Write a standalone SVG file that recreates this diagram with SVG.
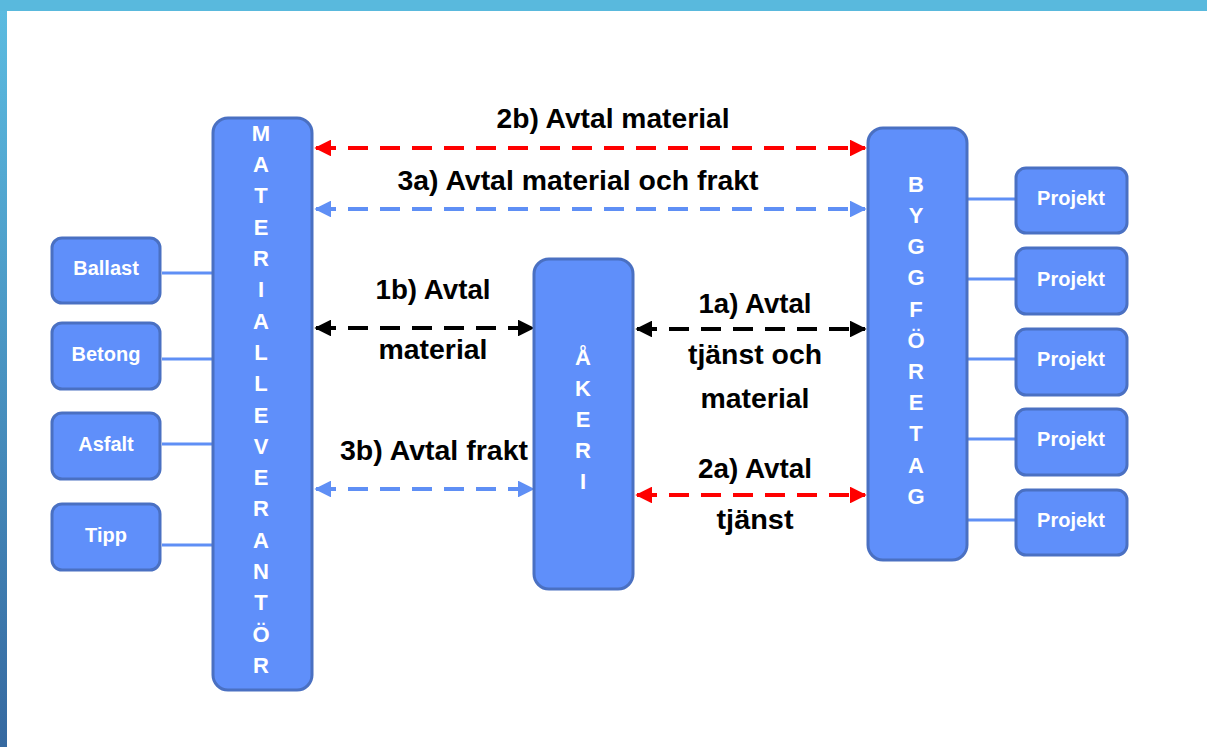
<svg xmlns="http://www.w3.org/2000/svg" width="1207" height="747" viewBox="0 0 1207 747">
<defs>
<linearGradient id="side" x1="0" y1="0" x2="0" y2="1">
<stop offset="0" stop-color="#5bbbe0"/>
<stop offset="1" stop-color="#3669a0"/>
</linearGradient>
<marker id="ar" viewBox="0 0 10 10" refX="9" refY="5" markerWidth="4.2" markerHeight="4.2" orient="auto-start-reverse" markerUnits="strokeWidth"><path d="M0,0 L10,5 L0,10 Z" fill="#ff0000"/></marker>
<marker id="ab" viewBox="0 0 10 10" refX="9" refY="5" markerWidth="4.2" markerHeight="4.2" orient="auto-start-reverse" markerUnits="strokeWidth"><path d="M0,0 L10,5 L0,10 Z" fill="#5f8ff5"/></marker>
<marker id="ak" viewBox="0 0 10 10" refX="9" refY="5" markerWidth="4.2" markerHeight="4.2" orient="auto-start-reverse" markerUnits="strokeWidth"><path d="M0,0 L10,5 L0,10 Z" fill="#000"/></marker>
</defs>
<style>
.box{fill:#5f8ffa;stroke:#4a70c2;stroke-width:3}
.lbl{font-family:"Liberation Sans",Arial,sans-serif;font-weight:bold;fill:#fff;text-anchor:middle}
.small{font-size:20px}
.vert{font-size:22px}
.cap{font-family:"Liberation Sans",Arial,sans-serif;font-weight:bold;fill:#000;text-anchor:middle;font-size:27px}
.link{stroke:#5f8ff5;stroke-width:3;fill:none}
.d{stroke-width:4;stroke-dasharray:20 12;fill:none}
</style>
<rect width="1207" height="747" fill="#fff"/>
<rect x="0" y="0" width="1207" height="11" fill="#59b9dd"/>
<rect x="0" y="11" width="7" height="736" fill="url(#side)"/>

<g id="connectors">
<line class="link" x1="162" y1="273" x2="212" y2="273"/>
<line class="link" x1="162" y1="359" x2="212" y2="359"/>
<line class="link" x1="162" y1="444" x2="212" y2="444"/>
<line class="link" x1="162" y1="545" x2="212" y2="545"/>
<line class="link" x1="967" y1="199" x2="1015" y2="199"/>
<line class="link" x1="967" y1="279" x2="1015" y2="279"/>
<line class="link" x1="967" y1="359" x2="1015" y2="359"/>
<line class="link" x1="967" y1="439" x2="1015" y2="439"/>
<line class="link" x1="967" y1="520" x2="1015" y2="520"/>
<line class="d" stroke="#ff0000" x1="316" y1="148" x2="865" y2="148" marker-start="url(#ar)" marker-end="url(#ar)"/>
<line class="d" stroke="#5f8ff5" x1="316" y1="209" x2="865" y2="209" marker-start="url(#ab)" marker-end="url(#ab)"/>
<line class="d" stroke="#000" x1="316" y1="328" x2="533" y2="328" marker-start="url(#ak)" marker-end="url(#ak)"/>
<line class="d" stroke="#000" x1="637" y1="329" x2="865" y2="329" marker-start="url(#ak)" marker-end="url(#ak)"/>
<line class="d" stroke="#5f8ff5" x1="316" y1="489" x2="533" y2="489" marker-start="url(#ab)" marker-end="url(#ab)"/>
<line class="d" stroke="#ff0000" x1="637" y1="495" x2="865" y2="495" marker-start="url(#ar)" marker-end="url(#ar)"/>
<text class="cap" x="613" y="128" textLength="233" lengthAdjust="spacingAndGlyphs">2b) Avtal material</text>
<text class="cap" x="578" y="190" textLength="361" lengthAdjust="spacingAndGlyphs">3a) Avtal material och frakt</text>
<text class="cap" x="433" y="299" textLength="115" lengthAdjust="spacingAndGlyphs">1b) Avtal</text>
<text class="cap" x="433" y="359" textLength="109" lengthAdjust="spacingAndGlyphs">material</text>
<text class="cap" x="755" y="313" textLength="113" lengthAdjust="spacingAndGlyphs">1a) Avtal</text>
<text class="cap" x="755" y="364" textLength="134" lengthAdjust="spacingAndGlyphs">tjänst och</text>
<text class="cap" x="755" y="408" textLength="109" lengthAdjust="spacingAndGlyphs">material</text>
<text class="cap" x="434" y="460" textLength="188" lengthAdjust="spacingAndGlyphs">3b) Avtal frakt</text>
<text class="cap" x="755" y="478" textLength="114" lengthAdjust="spacingAndGlyphs">2a) Avtal</text>
<text class="cap" x="755" y="529" textLength="77" lengthAdjust="spacingAndGlyphs">tjänst</text>
</g>

<g id="ballast"><rect class="box" x="52" y="238" width="108" height="65" rx="10"/><text class="lbl small" x="106" y="275">Ballast</text></g>
<g id="betong"><rect class="box" x="52" y="323" width="108" height="66" rx="10"/><text class="lbl small" x="106" y="361">Betong</text></g>
<g id="asfalt"><rect class="box" x="52" y="413" width="108" height="66" rx="10"/><text class="lbl small" x="106" y="451">Asfalt</text></g>
<g id="tipp"><rect class="box" x="52" y="504" width="108" height="66" rx="10"/><text class="lbl small" x="106" y="542">Tipp</text></g>

<g id="materialleverantor"><rect class="box" x="213" y="118" width="99" height="572" rx="15"/>
<text class="lbl vert">
<tspan x="261" y="141">M</tspan><tspan x="261" y="172">A</tspan><tspan x="261" y="203">T</tspan><tspan x="261" y="235">E</tspan><tspan x="261" y="266">R</tspan><tspan x="261" y="297">I</tspan><tspan x="261" y="329">A</tspan><tspan x="261" y="360">L</tspan><tspan x="261" y="391">L</tspan><tspan x="261" y="423">E</tspan><tspan x="261" y="454">V</tspan><tspan x="261" y="485">E</tspan><tspan x="261" y="516">R</tspan><tspan x="261" y="548">A</tspan><tspan x="261" y="579">N</tspan><tspan x="261" y="610">T</tspan><tspan x="261" y="642">Ö</tspan><tspan x="261" y="673">R</tspan>
</text></g>

<g id="akeri"><rect class="box" x="534" y="259" width="99" height="330" rx="15"/>
<text class="lbl vert">
<tspan x="583" y="365">Å</tspan><tspan x="583" y="396">K</tspan><tspan x="583" y="427">E</tspan><tspan x="583" y="458">R</tspan><tspan x="583" y="489">I</tspan>
</text></g>

<g id="byggforetag"><rect class="box" x="868" y="128" width="99" height="432" rx="15"/>
<text class="lbl vert">
<tspan x="916" y="192">B</tspan><tspan x="916" y="223">Y</tspan><tspan x="916" y="254">G</tspan><tspan x="916" y="285">G</tspan><tspan x="916" y="317">F</tspan><tspan x="916" y="348">Ö</tspan><tspan x="916" y="379">R</tspan><tspan x="916" y="410">E</tspan><tspan x="916" y="441">T</tspan><tspan x="916" y="473">A</tspan><tspan x="916" y="504">G</tspan>
</text></g>

<g id="projekt1"><rect class="box" x="1016" y="168" width="111" height="65" rx="10"/><text class="lbl small" x="1071" y="205">Projekt</text></g>
<g id="projekt2"><rect class="box" x="1016" y="248" width="111" height="66" rx="10"/><text class="lbl small" x="1071" y="286">Projekt</text></g>
<g id="projekt3"><rect class="box" x="1016" y="329" width="111" height="66" rx="10"/><text class="lbl small" x="1071" y="366">Projekt</text></g>
<g id="projekt4"><rect class="box" x="1016" y="409" width="111" height="66" rx="10"/><text class="lbl small" x="1071" y="446">Projekt</text></g>
<g id="projekt5"><rect class="box" x="1016" y="490" width="111" height="65" rx="10"/><text class="lbl small" x="1071" y="527">Projekt</text></g>
</svg>
